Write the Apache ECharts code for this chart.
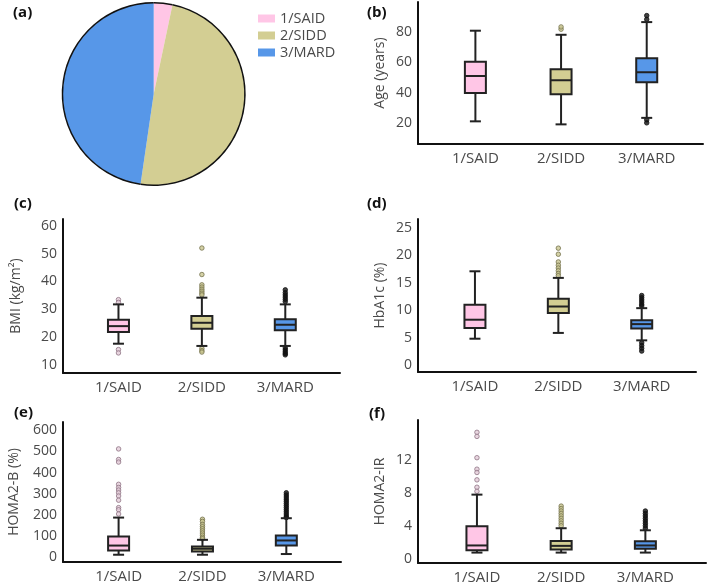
<!DOCTYPE html>
<html><head><meta charset="utf-8">
<script src="https://cdn.jsdelivr.net/npm/echarts@6/dist/echarts.min.js"></script>
<style>html,body{margin:0;padding:0;background:#fff}#c{width:709px;height:587px}</style>
</head><body><div id="c"></div>
<script>
// ---------- data ----------
const categories = ['1/SAID', '2/SIDD', '3/MARD'];
const pieShare = [3.3, 49.0, 47.7];

// box stats: [min whisker, Q1, median, Q3, max whisker]
const ageBox = [[21, 39.7, 51, 60.5, 81], [19, 39, 48.2, 55.5, 78.3], [23.3, 46.8, 53.5, 62.8, 86.7]];
const ageOutliers = [[], [82, 83.5], [88.5, 91, 22, 20]];
const ageTicks = [20, 40, 60, 80];

const bmiBox = [[17.7, 21.9, 24, 26.3, 31.8], [16.9, 23.1, 25.2, 27.6, 34.2], [16.9, 22.5, 24.5, 26.5, 31.8]];
const bmiOutliers = [
  [33.5, 32.5, 15.6, 14.4],
  [52, 42.5, 38.8, 38, 37.2, 36.5, 35.8, 35.2, 16, 15.2, 14.7],
  [37, 36, 35.2, 34.4, 33.6, 32.8, 16.2, 15.5, 14.8, 14.2, 13.7]
];
const bmiTicks = [10, 20, 30, 40, 50, 60];

const hba1cBox = [[4.85, 6.8, 8.3, 11.0, 17.1], [5.9, 9.5, 10.7, 12.1, 15.9], [4.55, 6.7, 7.5, 8.2, 10.4]];
const hba1cOutliers = [
  [],
  [21.3, 20.2, 18.8, 18.2, 17.7, 17.2, 16.7, 16.3],
  [12.7, 12.3, 11.9, 11.5, 11.1, 10.8, 4.1, 3.6, 3.1, 2.6]
];
const hba1cTicks = [0, 5, 10, 15, 20, 25];

const homaBBox = [[12.7, 33, 56, 99, 188], [12.7, 28, 41, 52, 83], [16, 56, 80, 103, 185]];
const homaBOutliers = [
  [512, 462, 450, 345, 330, 318, 305, 290, 270, 235, 225, 205],
  [180, 170, 155, 145, 135, 125, 115, 105, 95, 88],
  [305, 295, 285, 275, 265, 255, 245, 235, 225, 215, 205, 195, 188]
];
const homaBTicks = [0, 100, 200, 300, 400, 500, 600];

const homaIRBox = [[0.73, 1.0, 1.6, 3.95, 7.8], [0.73, 1.1, 1.55, 2.15, 3.7], [0.73, 1.2, 1.6, 2.1, 3.45]];
const homaIROutliers = [
  [15.4, 14.9, 12.3, 10.9, 10.5, 9.6, 8.7, 8.2],
  [6.4, 6.1, 5.8, 5.5, 5.2, 4.9, 4.6, 4.3, 4.0],
  [5.8, 5.5, 5.2, 4.9, 4.6, 4.3, 4.0, 3.7]
];
const homaIRTicks = [0, 4, 8, 12];

// ---------- styles / layout ----------
const groupColors = ['#FFC6E6', '#D3CE93', '#5797E8'];
const outlierFill = ['#E3CCD8', '#C9C690', '#111111'];
const outlierStroke = ['#8E7484', '#74724C', '#111111'];
const FONT = 'Open Sans';
const TXT = '#4a4a4a';

const panels = [
  { label: '(b)', name: 'Age (years)', box: ageBox, out: ageOutliers, ticks: ageTicks,
    yMin: 6, yMax: 100, grid: { left: 418, top: 2, width: 285, height: 142 },
    xMin: -0.67, xMax: 2.657, nameGap: 31, labelPos: [367, 3] },
  { label: '(c)', name: 'BMI (kg/m²)', box: bmiBox, out: bmiOutliers, ticks: bmiTicks,
    yMin: 7.2, yMax: 62.4, grid: { left: 63, top: 219, width: 277, height: 154 },
    xMin: -0.665, xMax: 2.656, nameGap: 40, labelPos: [14, 194] },
  { label: '(d)', name: 'HbA1c (%)', box: hba1cBox, out: hba1cOutliers, ticks: hba1cTicks,
    yMin: -1.2, yMax: 26.6, grid: { left: 418, top: 219, width: 278, height: 153 },
    xMin: -0.683, xMax: 2.651, nameGap: 31, labelPos: [367, 194] },
  { label: '(e)', name: 'HOMA2-B (%)', box: homaBBox, out: homaBOutliers, ticks: homaBTicks,
    yMin: -21.6, yMax: 639, grid: { left: 63, top: 422, width: 278, height: 140 },
    xMin: -0.663, xMax: 2.652, nameGap: 42, labelPos: [14, 403] },
  { label: '(f)', name: 'HOMA2-IR', box: homaIRBox, out: homaIROutliers, ticks: homaIRTicks,
    yMin: -0.54, yMax: 16.9, grid: { left: 418, top: 420, width: 288, height: 143 },
    xMin: -0.70, xMax: 2.72, nameGap: 31, labelPos: [369, 404] }
];

function renderBox(params, api) {
  const x = api.value(0);
  const lo = api.coord([x, api.value(1)]);
  const q1 = api.coord([x, api.value(2)]);
  const md = api.coord([x, api.value(3)]);
  const q3 = api.coord([x, api.value(4)]);
  const hi = api.coord([x, api.value(5)]);
  const half = 10.5, cap = 5.5;
  const st = { stroke: '#222', lineWidth: 2, fill: null };
  return {
    type: 'group',
    children: [
      { type: 'line', shape: { x1: lo[0], y1: lo[1], x2: q1[0], y2: q1[1] }, style: st },
      { type: 'line', shape: { x1: q3[0], y1: q3[1], x2: hi[0], y2: hi[1] }, style: st },
      { type: 'line', shape: { x1: lo[0] - cap, y1: lo[1], x2: lo[0] + cap, y2: lo[1] }, style: st },
      { type: 'line', shape: { x1: hi[0] - cap, y1: hi[1], x2: hi[0] + cap, y2: hi[1] }, style: st },
      { type: 'rect', shape: { x: q3[0] - half, y: q3[1], width: 2 * half, height: q1[1] - q3[1] },
        style: { fill: groupColors[x], stroke: '#222', lineWidth: 2 } },
      { type: 'line', shape: { x1: md[0] - half, y1: md[1], x2: md[0] + half, y2: md[1] }, style: st }
    ]
  };
}

const grid = [], xAxis = [], yAxis = [], series = [], title = [];
title.push({ text: '(a)', left: 13, top: 3, padding: 0,
  textStyle: { fontSize: 15, fontWeight: 'bold', color: '#111', fontFamily: FONT, lineHeight: 19 } });

panels.forEach((p, k) => {
  grid.push(Object.assign({ containLabel: false, outerBoundsMode: 'none' }, p.grid));
  title.push({ text: p.label, left: p.labelPos[0], top: p.labelPos[1], padding: 0,
    textStyle: { fontSize: 15, fontWeight: 'bold', color: '#111', fontFamily: FONT, lineHeight: 19 } });
  xAxis.push({
    gridIndex: k, type: 'value', min: p.xMin, max: p.xMax, position: 'bottom',
    axisLine: { show: true, onZero: false, lineStyle: { color: '#111', width: 2 } },
    axisTick: { show: false }, splitLine: { show: false },
    axisLabel: { show: true, customValues: [0, 1, 2], formatter: v => categories[Math.round(v)],
      fontSize: 15, color: TXT, fontFamily: FONT, margin: 7, showMinLabel: true, showMaxLabel: true }
  });
  yAxis.push({
    gridIndex: k, type: 'value', min: p.yMin, max: p.yMax, position: 'left',
    name: p.name, nameLocation: 'middle', nameGap: p.nameGap, nameMoveOverlap: false,
    nameTextStyle: { fontSize: 14, color: TXT, fontFamily: FONT },
    axisLine: { show: true, onZero: false, lineStyle: { color: '#111', width: 2 } },
    axisTick: { show: false }, splitLine: { show: false },
    axisLabel: { customValues: p.ticks, fontSize: 14, color: TXT, fontFamily: FONT, margin: 6 }
  });
  const outData = [];
  p.out.forEach((arr, i) => arr.forEach(v => outData.push({
    value: [i, v], itemStyle: { color: outlierFill[i], borderColor: outlierStroke[i], borderWidth: 1 }
  })));
  series.push({
    type: 'scatter', xAxisIndex: k, yAxisIndex: k, data: outData,
    symbol: 'circle', symbolSize: 4.5, silent: true, z: 2
  });
  series.push({
    type: 'custom', xAxisIndex: k, yAxisIndex: k, silent: true, z: 3,
    renderItem: renderBox,
    data: p.box.map((b, i) => [i].concat(b)),
    encode: { x: 0, y: [1, 2, 3, 4, 5] }
  });
});

const pieData = categories.map((c, i) => ({ name: c, value: pieShare[i], itemStyle: { color: groupColors[i] } }));
series.push({
  type: 'pie', name: 'share', center: [153.7, 94], radius: 91, startAngle: 90, clockwise: true,
  silent: true, label: { show: false }, labelLine: { show: false }, itemStyle: { borderWidth: 0 },
  emphasis: { disabled: true }, data: pieData
});
series.push({
  type: 'pie', name: 'outline', center: [153.7, 94], radius: [90.5, 92], startAngle: 90, clockwise: true,
  silent: true, label: { show: false }, labelLine: { show: false },
  itemStyle: { color: '#111', borderWidth: 0 }, emphasis: { disabled: true },
  data: categories.map((c, i) => ({ name: c, value: pieShare[i], itemStyle: { color: '#111' } }))
});

const chart = echarts.init(document.getElementById('c'), null, { renderer: 'canvas' });
chart.setOption({
  animation: false,
  textStyle: { fontFamily: FONT },
  title: title,
  legend: {
    data: categories, orient: 'vertical', left: 253, top: 6, itemWidth: 17, itemHeight: 8,
    itemGap: 2, icon: 'rect', selectedMode: false,
    textStyle: { fontSize: 14.5, color: TXT, fontFamily: FONT, lineHeight: 15 }
  },
  grid: grid, xAxis: xAxis, yAxis: yAxis, series: series
});
</script></body></html>
